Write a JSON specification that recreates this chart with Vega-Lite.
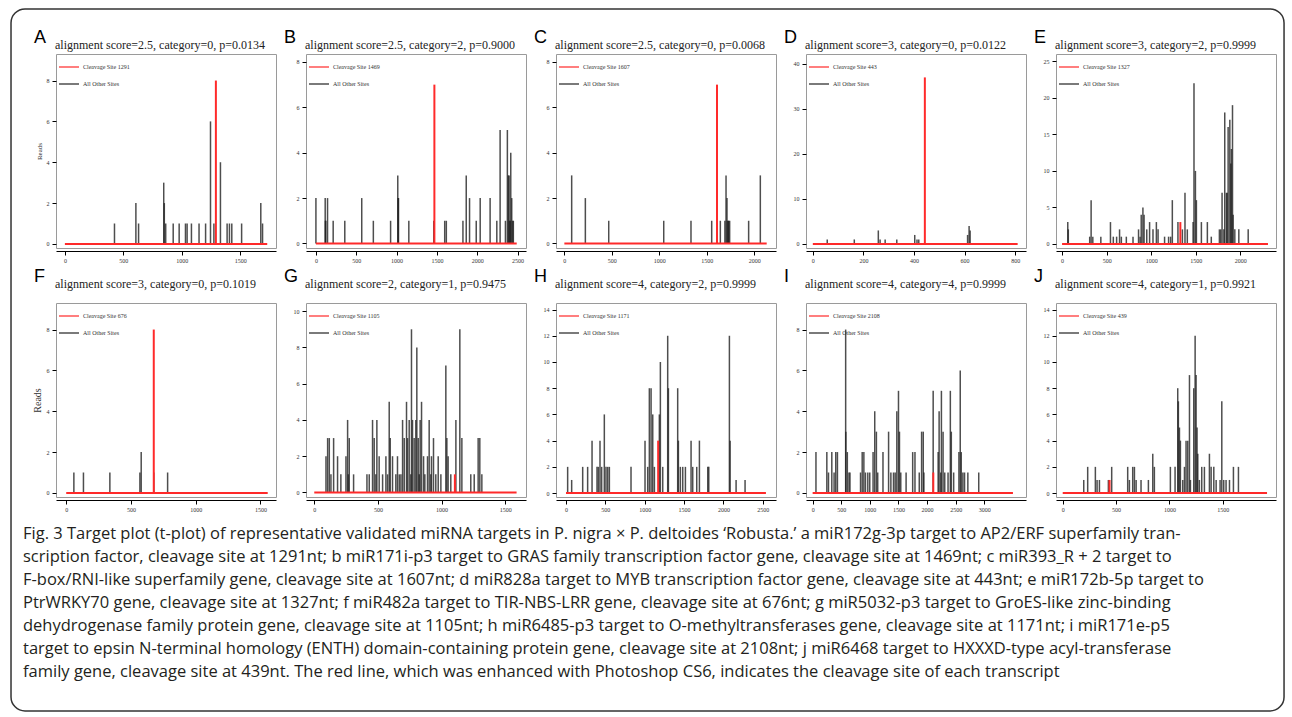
{
"$schema": "https://vega.github.io/schema/vega-lite/v6.json",
"background": "white",
"padding": {"left": 10, "top": 8, "right": 5, "bottom": 2},
"columns": 5,
"bounds": "flush",
"spacing": {"row": 55, "column": 30},
"resolve": {"scale": {"color": "independent"}, "legend": {"color": "independent"}},
"concat": [
{
"width": 220, "height": 194,
"title": {"text": "A", "subtitle": "\u200b\u00a0\u00a0\u00a0\u00a0\u00a0\u00a0\u00a0alignment score=2.5, category=0, p=0.0134", "offset": 3},
"data": {"values": [
{"s":"o","p":424,"r":1},{"s":"o","p":607,"r":2},{"s":"o","p":630,"r":1},{"s":"o","p":845,"r":3},{"s":"o","p":850,"r":2},{"s":"o","p":862,"r":1},{"s":"o","p":926,"r":1},{"s":"o","p":977,"r":1},{"s":"o","p":1031,"r":1},{"s":"o","p":1045,"r":1},{"s":"o","p":1082,"r":1},{"s":"o","p":1147,"r":1},{"s":"o","p":1203,"r":1},{"s":"o","p":1245,"r":6},{"s":"o","p":1274,"r":1},{"s":"o","p":1330,"r":4},{"s":"o","p":1387,"r":1},{"s":"o","p":1407,"r":1},{"s":"o","p":1427,"r":1},{"s":"o","p":1511,"r":1},{"s":"o","p":1675,"r":2},{"s":"o","p":1690,"r":1},
{"s":"c","p":1291,"r":8},
{"s":"b","p":0,"p2":1730,"r":0}]},
"encoding": {
"x": {"field": "p", "type": "quantitative", "scale": {"domain": [-76, 1805], "nice": false, "zero": false}, "axis": {"values": [0,500,1000,1500], "title": null}},
"y": {"field": "r", "type": "quantitative", "scale": {"domain": [-0.2, 9.3], "nice": false, "zero": false}, "axis": {"values": [0,2,4,6,8], "title": "Reads", "titleFontSize": 7, "titlePadding": 4}}
},
"layer": [
{"transform": [{"filter": "datum.s=='o'"}], "mark": {"type": "rule", "strokeWidth": 1.5, "opacity": 0.8}, "encoding": {"y2": {"datum": 0}, "color": {"field": "s", "type": "nominal", "scale": {"domain": ["c","o"], "range": ["#ff2a2a","#222222"]}, "legend": {"title": null, "labelExpr": "datum.label=='c'?'Cleavage Site 1291':'All Other Sites'"}}}},
{"transform": [{"filter": "datum.s=='c'"}], "mark": {"type": "rule", "strokeWidth": 2}, "encoding": {"y2": {"datum": 0}, "color": {"field": "s", "type": "nominal", "scale": {"domain": ["c","o"], "range": ["#ff2a2a","#222222"]}, "legend": {"title": null, "labelExpr": "datum.label=='c'?'Cleavage Site 1291':'All Other Sites'"}}}},
{"transform": [{"filter": "datum.s=='b'"}], "mark": {"type": "rule", "strokeWidth": 2, "color": "#ff2a2a"}, "encoding": {"x2": {"field": "p2"}}}
]
},
{
"width": 220, "height": 194,
"title": {"text": "B", "subtitle": "\u200b\u00a0\u00a0\u00a0\u00a0\u00a0\u00a0\u00a0alignment score=2.5, category=2, p=0.9000", "offset": 3},
"data": {"values": [
{"s":"o","p":0,"r":2},{"s":"o","p":115,"r":2},{"s":"o","p":118,"r":1},{"s":"o","p":122,"r":1},{"s":"o","p":144,"r":2},{"s":"o","p":214,"r":1},{"s":"o","p":358,"r":1},{"s":"o","p":568,"r":2},{"s":"o","p":712,"r":1},{"s":"o","p":926,"r":1},{"s":"o","p":1015,"r":3},{"s":"o","p":1020,"r":2},{"s":"o","p":1024,"r":2},{"s":"o","p":1152,"r":1},{"s":"o","p":1461,"r":1},{"s":"o","p":1597,"r":1},{"s":"o","p":1617,"r":1},{"s":"o","p":1823,"r":1},{"s":"o","p":1864,"r":3},{"s":"o","p":1905,"r":2},{"s":"o","p":1988,"r":1},{"s":"o","p":2037,"r":2},{"s":"o","p":2160,"r":2},{"s":"o","p":2243,"r":1},{"s":"o","p":2284,"r":5},{"s":"o","p":2350,"r":1},{"s":"o","p":2374,"r":5},{"s":"o","p":2387,"r":3},{"s":"o","p":2395,"r":3},{"s":"o","p":2400,"r":1},{"s":"o","p":2410,"r":1},{"s":"o","p":2416,"r":4},{"s":"o","p":2428,"r":2},{"s":"o","p":2440,"r":1},{"s":"o","p":2448,"r":1},
{"s":"c","p":1469,"r":7},
{"s":"b","p":0,"p2":2490,"r":0}]},
"encoding": {
"x": {"field": "p", "type": "quantitative", "scale": {"domain": [-123, 2605], "nice": false, "zero": false}, "axis": {"values": [0,500,1000,1500,2000,2500], "title": null}},
"y": {"field": "r", "type": "quantitative", "scale": {"domain": [-0.2, 8.35], "nice": false, "zero": false}, "axis": {"values": [0,2,4,6,8], "title": null}}
},
"layer": [
{"transform": [{"filter": "datum.s=='o'"}], "mark": {"type": "rule", "strokeWidth": 1.5, "opacity": 0.8}, "encoding": {"y2": {"datum": 0}, "color": {"field": "s", "type": "nominal", "scale": {"domain": ["c","o"], "range": ["#ff2a2a","#222222"]}, "legend": {"title": null, "labelExpr": "datum.label=='c'?'Cleavage Site 1469':'All Other Sites'"}}}},
{"transform": [{"filter": "datum.s=='c'"}], "mark": {"type": "rule", "strokeWidth": 2}, "encoding": {"y2": {"datum": 0}, "color": {"field": "s", "type": "nominal", "scale": {"domain": ["c","o"], "range": ["#ff2a2a","#222222"]}, "legend": {"title": null, "labelExpr": "datum.label=='c'?'Cleavage Site 1469':'All Other Sites'"}}}},
{"transform": [{"filter": "datum.s=='b'"}], "mark": {"type": "rule", "strokeWidth": 2, "color": "#ff2a2a"}, "encoding": {"x2": {"field": "p2"}}}
]
},
{
"width": 220, "height": 194,
"title": {"text": "C", "subtitle": "\u200b\u00a0\u00a0\u00a0\u00a0\u00a0\u00a0\u00a0alignment score=2.5, category=0, p=0.0068", "offset": 3},
"data": {"values": [
{"s":"o","p":77,"r":3},{"s":"o","p":221,"r":2},{"s":"o","p":467,"r":1},{"s":"o","p":1046,"r":1},{"s":"o","p":1333,"r":1},{"s":"o","p":1551,"r":1},{"s":"o","p":1642,"r":1},{"s":"o","p":1690,"r":1},{"s":"o","p":1702,"r":3},{"s":"o","p":1712,"r":2},{"s":"o","p":1718,"r":1},{"s":"o","p":1725,"r":1},{"s":"o","p":1730,"r":1},{"s":"o","p":1740,"r":1},{"s":"o","p":1940,"r":1},{"s":"o","p":2063,"r":3},
{"s":"c","p":1607,"r":7},
{"s":"b","p":0,"p2":2130,"r":0}]},
"encoding": {
"x": {"field": "p", "type": "quantitative", "scale": {"domain": [-88, 2228], "nice": false, "zero": false}, "axis": {"values": [0,500,1000,1500,2000], "title": null}},
"y": {"field": "r", "type": "quantitative", "scale": {"domain": [-0.2, 8.35], "nice": false, "zero": false}, "axis": {"values": [0,2,4,6,8], "title": null}}
},
"layer": [
{"transform": [{"filter": "datum.s=='o'"}], "mark": {"type": "rule", "strokeWidth": 1.5, "opacity": 0.8}, "encoding": {"y2": {"datum": 0}, "color": {"field": "s", "type": "nominal", "scale": {"domain": ["c","o"], "range": ["#ff2a2a","#222222"]}, "legend": {"title": null, "labelExpr": "datum.label=='c'?'Cleavage Site 1607':'All Other Sites'"}}}},
{"transform": [{"filter": "datum.s=='c'"}], "mark": {"type": "rule", "strokeWidth": 2}, "encoding": {"y2": {"datum": 0}, "color": {"field": "s", "type": "nominal", "scale": {"domain": ["c","o"], "range": ["#ff2a2a","#222222"]}, "legend": {"title": null, "labelExpr": "datum.label=='c'?'Cleavage Site 1607':'All Other Sites'"}}}},
{"transform": [{"filter": "datum.s=='b'"}], "mark": {"type": "rule", "strokeWidth": 2, "color": "#ff2a2a"}, "encoding": {"x2": {"field": "p2"}}}
]
},
{
"width": 220, "height": 194,
"title": {"text": "D", "subtitle": "\u200b\u00a0\u00a0\u00a0\u00a0\u00a0\u00a0\u00a0alignment score=3, category=0, p=0.0122", "offset": 3},
"data": {"values": [
{"s":"o","p":57,"r":1},{"s":"o","p":164,"r":1},{"s":"o","p":259,"r":3},{"s":"o","p":266,"r":1},{"s":"o","p":286,"r":1},{"s":"o","p":332,"r":1},{"s":"o","p":403,"r":2},{"s":"o","p":412,"r":1},{"s":"o","p":419,"r":1},{"s":"o","p":612,"r":2},{"s":"o","p":618,"r":4},{"s":"o","p":622,"r":3},
{"s":"c","p":443,"r":37},
{"s":"b","p":0,"p2":810,"r":0}]},
"encoding": {
"x": {"field": "p", "type": "quantitative", "scale": {"domain": [-27, 843], "nice": false, "zero": false}, "axis": {"values": [0,200,400,600,800], "title": null}},
"y": {"field": "r", "type": "quantitative", "scale": {"domain": [-0.9, 42.2], "nice": false, "zero": false}, "axis": {"values": [0,10,20,30,40], "title": null}}
},
"layer": [
{"transform": [{"filter": "datum.s=='o'"}], "mark": {"type": "rule", "strokeWidth": 1.5, "opacity": 0.8}, "encoding": {"y2": {"datum": 0}, "color": {"field": "s", "type": "nominal", "scale": {"domain": ["c","o"], "range": ["#ff2a2a","#222222"]}, "legend": {"title": null, "labelExpr": "datum.label=='c'?'Cleavage Site 443':'All Other Sites'"}}}},
{"transform": [{"filter": "datum.s=='c'"}], "mark": {"type": "rule", "strokeWidth": 2}, "encoding": {"y2": {"datum": 0}, "color": {"field": "s", "type": "nominal", "scale": {"domain": ["c","o"], "range": ["#ff2a2a","#222222"]}, "legend": {"title": null, "labelExpr": "datum.label=='c'?'Cleavage Site 443':'All Other Sites'"}}}},
{"transform": [{"filter": "datum.s=='b'"}], "mark": {"type": "rule", "strokeWidth": 2, "color": "#ff2a2a"}, "encoding": {"x2": {"field": "p2"}}}
]
},
{
"width": 220, "height": 194,
"title": {"text": "E", "subtitle": "\u200b\u00a0\u00a0\u00a0\u00a0\u00a0\u00a0\u00a0alignment score=3, category=2, p=0.9999", "offset": 3},
"data": {"values": [
{"s":"o","p":64,"r":3},{"s":"o","p":70,"r":2},{"s":"o","p":310,"r":1},{"s":"o","p":326,"r":6},{"s":"o","p":345,"r":1},{"s":"o","p":435,"r":1},{"s":"o","p":543,"r":3},{"s":"o","p":575,"r":1},{"s":"o","p":612,"r":1},{"s":"o","p":645,"r":2},{"s":"o","p":665,"r":1},{"s":"o","p":721,"r":1},{"s":"o","p":796,"r":1},{"s":"o","p":858,"r":2},{"s":"o","p":875,"r":1},{"s":"o","p":888,"r":4},{"s":"o","p":907,"r":5},{"s":"o","p":920,"r":4},{"s":"o","p":950,"r":2},{"s":"o","p":982,"r":3},{"s":"o","p":1020,"r":2},{"s":"o","p":1058,"r":3},{"s":"o","p":1077,"r":2},{"s":"o","p":1150,"r":1},{"s":"o","p":1195,"r":1},{"s":"o","p":1218,"r":1},{"s":"o","p":1237,"r":6},{"s":"o","p":1300,"r":3},{"s":"o","p":1350,"r":2},{"s":"o","p":1379,"r":7},{"s":"o","p":1405,"r":2},{"s":"o","p":1470,"r":3},{"s":"o","p":1480,"r":22},{"s":"o","p":1496,"r":10},{"s":"o","p":1507,"r":6},{"s":"o","p":1563,"r":3},{"s":"o","p":1630,"r":3},{"s":"o","p":1674,"r":1},{"s":"o","p":1765,"r":2},{"s":"o","p":1780,"r":2},{"s":"o","p":1795,"r":7},{"s":"o","p":1815,"r":2},{"s":"o","p":1825,"r":18},{"s":"o","p":1844,"r":7},{"s":"o","p":1852,"r":7},{"s":"o","p":1863,"r":16},{"s":"o","p":1882,"r":17},{"s":"o","p":1893,"r":11},{"s":"o","p":1900,"r":13},{"s":"o","p":1912,"r":19},{"s":"o","p":1919,"r":4},{"s":"o","p":1938,"r":2},{"s":"o","p":1983,"r":2},{"s":"o","p":2088,"r":2},
{"s":"c","p":1327,"r":3},
{"s":"b","p":0,"p2":2310,"r":0}]},
"encoding": {
"x": {"field": "p", "type": "quantitative", "scale": {"domain": [-68, 2400], "nice": false, "zero": false}, "axis": {"values": [0,500,1000,1500,2000], "title": null}},
"y": {"field": "r", "type": "quantitative", "scale": {"domain": [-0.55, 26], "nice": false, "zero": false}, "axis": {"values": [0,5,10,15,20,25], "title": null}}
},
"layer": [
{"transform": [{"filter": "datum.s=='o'"}], "mark": {"type": "rule", "strokeWidth": 1.5, "opacity": 0.8}, "encoding": {"y2": {"datum": 0}, "color": {"field": "s", "type": "nominal", "scale": {"domain": ["c","o"], "range": ["#ff2a2a","#222222"]}, "legend": {"title": null, "labelExpr": "datum.label=='c'?'Cleavage Site 1327':'All Other Sites'"}}}},
{"transform": [{"filter": "datum.s=='c'"}], "mark": {"type": "rule", "strokeWidth": 2}, "encoding": {"y2": {"datum": 0}, "color": {"field": "s", "type": "nominal", "scale": {"domain": ["c","o"], "range": ["#ff2a2a","#222222"]}, "legend": {"title": null, "labelExpr": "datum.label=='c'?'Cleavage Site 1327':'All Other Sites'"}}}},
{"transform": [{"filter": "datum.s=='b'"}], "mark": {"type": "rule", "strokeWidth": 2, "color": "#ff2a2a"}, "encoding": {"x2": {"field": "p2"}}}
]
},
{
"width": 220, "height": 194,
"title": {"text": "F", "subtitle": "\u200b\u00a0\u00a0\u00a0\u00a0\u00a0\u00a0\u00a0alignment score=3, category=0, p=0.1019", "offset": 13},
"data": {"values": [
{"s":"o","p":59,"r":1},{"s":"o","p":133,"r":1},{"s":"o","p":337,"r":1},{"s":"o","p":569,"r":1},{"s":"o","p":579,"r":2},{"s":"o","p":676,"r":1},{"s":"o","p":783,"r":1},
{"s":"c","p":676,"r":8},
{"s":"b","p":0,"p2":1556,"r":0}]},
"encoding": {
"x": {"field": "p", "type": "quantitative", "scale": {"domain": [-79, 1620], "nice": false, "zero": false}, "axis": {"values": [0,500,1000,1500], "title": null}},
"y": {"field": "r", "type": "quantitative", "scale": {"domain": [-0.2, 9.3], "nice": false, "zero": false}, "axis": {"values": [0,2,4,6,8], "title": "Reads", "titleFontSize": 10, "titlePadding": 4}}
},
"layer": [
{"transform": [{"filter": "datum.s=='o'"}], "mark": {"type": "rule", "strokeWidth": 1.5, "opacity": 0.8}, "encoding": {"y2": {"datum": 0}, "color": {"field": "s", "type": "nominal", "scale": {"domain": ["c","o"], "range": ["#ff2a2a","#222222"]}, "legend": {"title": null, "labelExpr": "datum.label=='c'?'Cleavage Site 676':'All Other Sites'"}}}},
{"transform": [{"filter": "datum.s=='c'"}], "mark": {"type": "rule", "strokeWidth": 2}, "encoding": {"y2": {"datum": 0}, "color": {"field": "s", "type": "nominal", "scale": {"domain": ["c","o"], "range": ["#ff2a2a","#222222"]}, "legend": {"title": null, "labelExpr": "datum.label=='c'?'Cleavage Site 676':'All Other Sites'"}}}},
{"transform": [{"filter": "datum.s=='b'"}], "mark": {"type": "rule", "strokeWidth": 2, "color": "#ff2a2a"}, "encoding": {"x2": {"field": "p2"}}}
]
},
{
"width": 220, "height": 194,
"title": {"text": "G", "subtitle": "\u200b\u00a0\u00a0\u00a0\u00a0\u00a0\u00a0\u00a0alignment score=2, category=1, p=0.9475", "offset": 13},
"data": {"values": [
{"s":"o","p":92,"r":2},{"s":"o","p":105,"r":3},{"s":"o","p":118,"r":3},{"s":"o","p":131,"r":1},{"s":"o","p":152,"r":3},{"s":"o","p":183,"r":2},{"s":"o","p":209,"r":1},{"s":"o","p":249,"r":2},{"s":"o","p":262,"r":4},{"s":"o","p":267,"r":1},{"s":"o","p":275,"r":3},{"s":"o","p":309,"r":1},{"s":"o","p":414,"r":1},{"s":"o","p":432,"r":1},{"s":"o","p":458,"r":4},{"s":"o","p":471,"r":3},{"s":"o","p":484,"r":1},{"s":"o","p":492,"r":4},{"s":"o","p":510,"r":2},{"s":"o","p":537,"r":1},{"s":"o","p":563,"r":2},{"s":"o","p":576,"r":1},{"s":"o","p":589,"r":5},{"s":"o","p":597,"r":3},{"s":"o","p":615,"r":2},{"s":"o","p":641,"r":1},{"s":"o","p":654,"r":2},{"s":"o","p":668,"r":1},{"s":"o","p":681,"r":1},{"s":"o","p":694,"r":4},{"s":"o","p":707,"r":3},{"s":"o","p":725,"r":5},{"s":"o","p":733,"r":3},{"s":"o","p":746,"r":4},{"s":"o","p":759,"r":1},{"s":"o","p":764,"r":9},{"s":"o","p":772,"r":4},{"s":"o","p":785,"r":3},{"s":"o","p":798,"r":4},{"s":"o","p":806,"r":8},{"s":"o","p":817,"r":3},{"s":"o","p":825,"r":1},{"s":"o","p":832,"r":4},{"s":"o","p":843,"r":5},{"s":"o","p":859,"r":2},{"s":"o","p":869,"r":1},{"s":"o","p":890,"r":2},{"s":"o","p":903,"r":4},{"s":"o","p":916,"r":1},{"s":"o","p":921,"r":2},{"s":"o","p":937,"r":3},{"s":"o","p":955,"r":1},{"s":"o","p":974,"r":2},{"s":"o","p":995,"r":1},{"s":"o","p":1034,"r":7},{"s":"o","p":1042,"r":3},{"s":"o","p":1052,"r":2},{"s":"o","p":1073,"r":1},{"s":"o","p":1113,"r":4},{"s":"o","p":1144,"r":9},{"s":"o","p":1160,"r":3},{"s":"o","p":1230,"r":1},{"s":"o","p":1257,"r":1},{"s":"o","p":1288,"r":3},{"s":"o","p":1301,"r":3},{"s":"o","p":1317,"r":1},
{"s":"c","p":1105,"r":1},
{"s":"b","p":0,"p2":1590,"r":0}]},
"encoding": {
"x": {"field": "p", "type": "quantitative", "scale": {"domain": [-65, 1664], "nice": false, "zero": false}, "axis": {"values": [0,500,1000,1500], "title": null}},
"y": {"field": "r", "type": "quantitative", "scale": {"domain": [-0.25, 10.45], "nice": false, "zero": false}, "axis": {"values": [0,2,4,6,8,10], "title": null}}
},
"layer": [
{"transform": [{"filter": "datum.s=='o'"}], "mark": {"type": "rule", "strokeWidth": 1.5, "opacity": 0.8}, "encoding": {"y2": {"datum": 0}, "color": {"field": "s", "type": "nominal", "scale": {"domain": ["c","o"], "range": ["#ff2a2a","#222222"]}, "legend": {"title": null, "labelExpr": "datum.label=='c'?'Cleavage Site 1105':'All Other Sites'"}}}},
{"transform": [{"filter": "datum.s=='c'"}], "mark": {"type": "rule", "strokeWidth": 2}, "encoding": {"y2": {"datum": 0}, "color": {"field": "s", "type": "nominal", "scale": {"domain": ["c","o"], "range": ["#ff2a2a","#222222"]}, "legend": {"title": null, "labelExpr": "datum.label=='c'?'Cleavage Site 1105':'All Other Sites'"}}}},
{"transform": [{"filter": "datum.s=='b'"}], "mark": {"type": "rule", "strokeWidth": 2, "color": "#ff2a2a"}, "encoding": {"x2": {"field": "p2"}}}
]
},
{
"width": 220, "height": 194,
"title": {"text": "H", "subtitle": "\u200b\u00a0\u00a0\u00a0\u00a0\u00a0\u00a0\u00a0alignment score=4, category=2, p=0.9999", "offset": 13},
"data": {"values": [
{"s":"o","p":21,"r":2},{"s":"o","p":72,"r":1},{"s":"o","p":212,"r":2},{"s":"o","p":275,"r":2},{"s":"o","p":331,"r":4},{"s":"o","p":394,"r":2},{"s":"o","p":411,"r":2},{"s":"o","p":432,"r":4},{"s":"o","p":453,"r":2},{"s":"o","p":487,"r":6},{"s":"o","p":508,"r":2},{"s":"o","p":530,"r":2},{"s":"o","p":551,"r":2},{"s":"o","p":826,"r":2},{"s":"o","p":1004,"r":4},{"s":"o","p":1038,"r":2},{"s":"o","p":1059,"r":8},{"s":"o","p":1081,"r":8},{"s":"o","p":1102,"r":6},{"s":"o","p":1123,"r":2},{"s":"o","p":1186,"r":6},{"s":"o","p":1199,"r":10},{"s":"o","p":1229,"r":2},{"s":"o","p":1292,"r":12},{"s":"o","p":1301,"r":8},{"s":"o","p":1419,"r":8},{"s":"o","p":1428,"r":4},{"s":"o","p":1453,"r":2},{"s":"o","p":1483,"r":2},{"s":"o","p":1517,"r":2},{"s":"o","p":1589,"r":4},{"s":"o","p":1610,"r":2},{"s":"o","p":1661,"r":2},{"s":"o","p":1695,"r":4},{"s":"o","p":1801,"r":2},{"s":"o","p":1814,"r":2},{"s":"o","p":2076,"r":12},{"s":"o","p":2085,"r":4},{"s":"o","p":2161,"r":1},{"s":"o","p":2275,"r":1},
{"s":"c","p":1171,"r":4},
{"s":"b","p":0,"p2":2540,"r":0}]},
"encoding": {
"x": {"field": "p", "type": "quantitative", "scale": {"domain": [-127, 2668], "nice": false, "zero": false}, "axis": {"values": [0,500,1000,1500,2000,2500], "title": null}},
"y": {"field": "r", "type": "quantitative", "scale": {"domain": [-0.3, 14.5], "nice": false, "zero": false}, "axis": {"values": [0,2,4,6,8,10,12,14], "title": null}}
},
"layer": [
{"transform": [{"filter": "datum.s=='o'"}], "mark": {"type": "rule", "strokeWidth": 1.5, "opacity": 0.8}, "encoding": {"y2": {"datum": 0}, "color": {"field": "s", "type": "nominal", "scale": {"domain": ["c","o"], "range": ["#ff2a2a","#222222"]}, "legend": {"title": null, "labelExpr": "datum.label=='c'?'Cleavage Site 1171':'All Other Sites'"}}}},
{"transform": [{"filter": "datum.s=='c'"}], "mark": {"type": "rule", "strokeWidth": 2}, "encoding": {"y2": {"datum": 0}, "color": {"field": "s", "type": "nominal", "scale": {"domain": ["c","o"], "range": ["#ff2a2a","#222222"]}, "legend": {"title": null, "labelExpr": "datum.label=='c'?'Cleavage Site 1171':'All Other Sites'"}}}},
{"transform": [{"filter": "datum.s=='b'"}], "mark": {"type": "rule", "strokeWidth": 2, "color": "#ff2a2a"}, "encoding": {"x2": {"field": "p2"}}}
]
},
{
"width": 220, "height": 194,
"title": {"text": "I", "subtitle": "\u200b\u00a0\u00a0\u00a0\u00a0\u00a0\u00a0\u00a0alignment score=4, category=4, p=0.9999", "offset": 13},
"data": {"values": [
{"s":"o","p":58,"r":2},{"s":"o","p":248,"r":2},{"s":"o","p":277,"r":1},{"s":"o","p":335,"r":2},{"s":"o","p":375,"r":1},{"s":"o","p":404,"r":2},{"s":"o","p":433,"r":2},{"s":"o","p":577,"r":8},{"s":"o","p":580,"r":3},{"s":"o","p":606,"r":2},{"s":"o","p":635,"r":1},{"s":"o","p":652,"r":1},{"s":"o","p":837,"r":1},{"s":"o","p":866,"r":2},{"s":"o","p":895,"r":2},{"s":"o","p":923,"r":1},{"s":"o","p":964,"r":1},{"s":"o","p":998,"r":1},{"s":"o","p":1056,"r":2},{"s":"o","p":1085,"r":4},{"s":"o","p":1114,"r":3},{"s":"o","p":1137,"r":1},{"s":"o","p":1229,"r":2},{"s":"o","p":1327,"r":3},{"s":"o","p":1367,"r":1},{"s":"o","p":1413,"r":1},{"s":"o","p":1442,"r":1},{"s":"o","p":1471,"r":4},{"s":"o","p":1500,"r":5},{"s":"o","p":1517,"r":3},{"s":"o","p":1540,"r":1},{"s":"o","p":1633,"r":1},{"s":"o","p":1748,"r":2},{"s":"o","p":1788,"r":2},{"s":"o","p":1863,"r":1},{"s":"o","p":1904,"r":3},{"s":"o","p":1933,"r":3},{"s":"o","p":1944,"r":1},{"s":"o","p":2106,"r":5},{"s":"o","p":2193,"r":2},{"s":"o","p":2210,"r":4},{"s":"o","p":2239,"r":1},{"s":"o","p":2250,"r":5},{"s":"o","p":2279,"r":3},{"s":"o","p":2308,"r":1},{"s":"o","p":2366,"r":1},{"s":"o","p":2406,"r":5},{"s":"o","p":2423,"r":3},{"s":"o","p":2464,"r":1},{"s":"o","p":2556,"r":2},{"s":"o","p":2579,"r":6},{"s":"o","p":2597,"r":2},{"s":"o","p":2625,"r":1},{"s":"o","p":2654,"r":1},{"s":"o","p":2712,"r":1},{"s":"o","p":2902,"r":1},
{"s":"c","p":2108,"r":1},
{"s":"b","p":0,"p2":3500,"r":0}]},
"encoding": {
"x": {"field": "p", "type": "quantitative", "scale": {"domain": [-116, 3728], "nice": false, "zero": false}, "axis": {"values": [0,500,1000,1500,2000,2500,3000], "title": null}},
"y": {"field": "r", "type": "quantitative", "scale": {"domain": [-0.2, 9.3], "nice": false, "zero": false}, "axis": {"values": [0,2,4,6,8], "title": null}}
},
"layer": [
{"transform": [{"filter": "datum.s=='o'"}], "mark": {"type": "rule", "strokeWidth": 1.5, "opacity": 0.8}, "encoding": {"y2": {"datum": 0}, "color": {"field": "s", "type": "nominal", "scale": {"domain": ["c","o"], "range": ["#ff2a2a","#222222"]}, "legend": {"title": null, "labelExpr": "datum.label=='c'?'Cleavage Site 2108':'All Other Sites'"}}}},
{"transform": [{"filter": "datum.s=='c'"}], "mark": {"type": "rule", "strokeWidth": 2}, "encoding": {"y2": {"datum": 0}, "color": {"field": "s", "type": "nominal", "scale": {"domain": ["c","o"], "range": ["#ff2a2a","#222222"]}, "legend": {"title": null, "labelExpr": "datum.label=='c'?'Cleavage Site 2108':'All Other Sites'"}}}},
{"transform": [{"filter": "datum.s=='b'"}], "mark": {"type": "rule", "strokeWidth": 2, "color": "#ff2a2a"}, "encoding": {"x2": {"field": "p2"}}}
]
},
{
"width": 220, "height": 194,
"title": {"text": "J", "subtitle": "\u200b\u00a0\u00a0\u00a0\u00a0\u00a0\u00a0\u00a0alignment score=4, category=1, p=0.9921", "offset": 13},
"data": {"values": [
{"s":"o","p":197,"r":1},{"s":"o","p":234,"r":2},{"s":"o","p":306,"r":2},{"s":"o","p":322,"r":1},{"s":"o","p":344,"r":1},{"s":"o","p":428,"r":1},{"s":"o","p":459,"r":2},{"s":"o","p":609,"r":2},{"s":"o","p":625,"r":1},{"s":"o","p":656,"r":2},{"s":"o","p":672,"r":2},{"s":"o","p":688,"r":1},{"s":"o","p":734,"r":1},{"s":"o","p":803,"r":1},{"s":"o","p":844,"r":3},{"s":"o","p":859,"r":2},{"s":"o","p":1009,"r":2},{"s":"o","p":1053,"r":2},{"s":"o","p":1078,"r":8},{"s":"o","p":1084,"r":7},{"s":"o","p":1094,"r":5},{"s":"o","p":1103,"r":4},{"s":"o","p":1125,"r":1},{"s":"o","p":1141,"r":2},{"s":"o","p":1156,"r":4},{"s":"o","p":1172,"r":4},{"s":"o","p":1188,"r":9},{"s":"o","p":1197,"r":1},{"s":"o","p":1228,"r":8},{"s":"o","p":1241,"r":12},{"s":"o","p":1250,"r":9},{"s":"o","p":1259,"r":5},{"s":"o","p":1266,"r":3},{"s":"o","p":1281,"r":1},{"s":"o","p":1303,"r":2},{"s":"o","p":1328,"r":2},{"s":"o","p":1375,"r":3},{"s":"o","p":1391,"r":2},{"s":"o","p":1416,"r":2},{"s":"o","p":1438,"r":1},{"s":"o","p":1475,"r":1},{"s":"o","p":1491,"r":7},{"s":"o","p":1509,"r":1},{"s":"o","p":1531,"r":1},{"s":"o","p":1563,"r":1},{"s":"o","p":1600,"r":2},{"s":"o","p":1647,"r":2},
{"s":"c","p":439,"r":1},
{"s":"b","p":0,"p2":1915,"r":0}]},
"encoding": {
"x": {"field": "p", "type": "quantitative", "scale": {"domain": [-63, 1999], "nice": false, "zero": false}, "axis": {"values": [0,500,1000,1500], "title": null}},
"y": {"field": "r", "type": "quantitative", "scale": {"domain": [-0.3, 14.5], "nice": false, "zero": false}, "axis": {"values": [0,2,4,6,8,10,12,14], "title": null}}
},
"layer": [
{"transform": [{"filter": "datum.s=='o'"}], "mark": {"type": "rule", "strokeWidth": 1.5, "opacity": 0.8}, "encoding": {"y2": {"datum": 0}, "color": {"field": "s", "type": "nominal", "scale": {"domain": ["c","o"], "range": ["#ff2a2a","#222222"]}, "legend": {"title": null, "labelExpr": "datum.label=='c'?'Cleavage Site 439':'All Other Sites'"}}}},
{"transform": [{"filter": "datum.s=='c'"}], "mark": {"type": "rule", "strokeWidth": 2}, "encoding": {"y2": {"datum": 0}, "color": {"field": "s", "type": "nominal", "scale": {"domain": ["c","o"], "range": ["#ff2a2a","#222222"]}, "legend": {"title": null, "labelExpr": "datum.label=='c'?'Cleavage Site 439':'All Other Sites'"}}}},
{"transform": [{"filter": "datum.s=='b'"}], "mark": {"type": "rule", "strokeWidth": 2, "color": "#ff2a2a"}, "encoding": {"x2": {"field": "p2"}}}
]
},
{
"width": 220, "height": 161,
"view": {"stroke": null},
"data": {"values": [
{"l":1,"t":"Fig. 3 Target plot (t-plot) of representative validated miRNA targets in P. nigra × P. deltoides ‘Robusta.’ a miR172g-3p target to AP2/ERF superfamily tran-"},
{"l":2,"t":"scription factor, cleavage site at 1291nt; b miR171i-p3 target to GRAS family transcription factor gene, cleavage site at 1469nt; c miR393_R + 2 target to"},
{"l":3,"t":"F-box/RNI-like superfamily gene, cleavage site at 1607nt; d miR828a target to MYB transcription factor gene, cleavage site at 443nt; e miR172b-5p target to"},
{"l":4,"t":"PtrWRKY70 gene, cleavage site at 1327nt; f miR482a target to TIR-NBS-LRR gene, cleavage site at 676nt; g miR5032-p3 target to GroES-like zinc-binding"},
{"l":5,"t":"dehydrogenase family protein gene, cleavage site at 1105nt; h miR6485-p3 target to O-methyltransferases gene, cleavage site at 1171nt; i miR171e-p5"},
{"l":6,"t":"target to epsin N-terminal homology (ENTH) domain-containing protein gene, cleavage site at 2108nt; j miR6468 target to HXXXD-type acyl-transferase"},
{"l":7,"t":"family gene, cleavage site at 439nt. The red line, which was enhanced with Photoshop CS6, indicates the cleavage site of each transcript"}
]},
"layer": [
{"mark": {"type": "text", "align": "left", "baseline": "middle", "font": "Open Sans", "fontSize": 16.5, "color": "#231f20"},
 "encoding": {
  "y": {"field": "l", "type": "quantitative", "axis": null, "scale": {"domain": [1.78, 8.78], "reverse": true, "nice": false, "zero": false}},
  "x": {"datum": 0, "type": "quantitative", "scale": {"domain": [0.15, 1.15], "nice": false, "zero": false}, "axis": null},
  "text": {"field": "t"}}},
{"data": {"values": [{"f": 1}]},
 "mark": {"type": "rect", "filled": false, "stroke": "#333333", "strokeWidth": 1.5, "cornerRadius": 14},
 "encoding": {
  "x": {"datum": -0.0545, "type": "quantitative"},
  "x2": {"datum": 5.732},
  "y": {"datum": -21.83, "type": "quantitative"},
  "y2": {"datum": 8.69}}}
]
}
],
"config": {
"font": "Liberation Serif",
"view": {"stroke": "#9a9a9a", "strokeWidth": 1},
"axisX": {"domainColor": "#000000", "domainWidth": 1, "tickColor": "#000000", "tickSize": 4, "labelFontSize": 6, "labelColor": "#333333", "labelPadding": 2, "grid": false, "offset": 3, "labelFont": "Liberation Serif", "format": "d"},
"axisY": {"domain": false, "tickColor": "#000000", "tickSize": 4, "labelFontSize": 6, "labelColor": "#333333", "labelPadding": 3, "grid": false, "labelFont": "Liberation Serif", "titleFont": "Liberation Serif", "titleFontWeight": "normal", "titleColor": "#333333"},
"title": {"anchor": "start", "frame": "group", "font": "Liberation Sans", "fontSize": 18, "fontWeight": "normal", "color": "#000000", "dx": -22, "subtitleFont": "Liberation Serif", "subtitleFontSize": 12, "subtitleColor": "#222222", "subtitlePadding": -7},
"legend": {"orient": "top-left", "offset": 2, "symbolType": "stroke", "symbolSize": 400, "symbolStrokeWidth": 1.5, "symbolOpacity": 0.8, "labelFontSize": 6, "labelFont": "Liberation Serif", "labelColor": "#333333", "rowPadding": 3, "padding": 0, "labelOffset": 3}
}
}
